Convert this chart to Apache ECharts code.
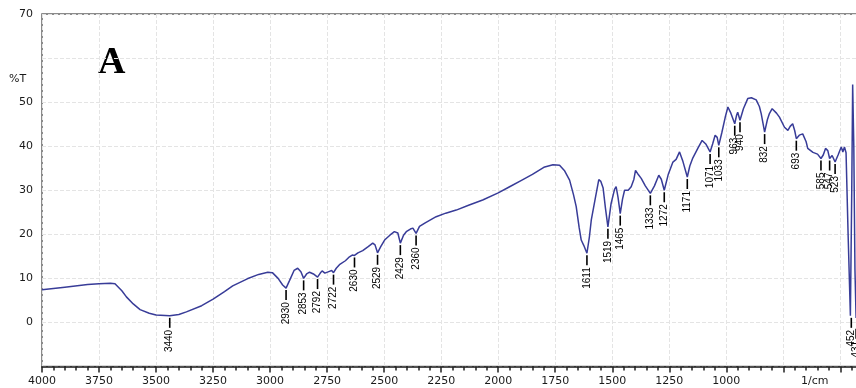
<!DOCTYPE html>
<html>
<head>
<meta charset="utf-8">
<title>FTIR spectrum A</title>
<script src="https://cdn.jsdelivr.net/npm/echarts@6/dist/echarts.min.js"></script>
<style>
  html, body { margin: 0; padding: 0; background: #fff; }
  #chart { width: 856px; height: 388px; }
</style>
</head>
<body>
<div id="chart"></div>
<script>
// wavenumber (1/cm) and transmittance (%T)
const wavenumbers = [
  4000, 3900, 3800, 3750, 3700, 3680, 3650, 3630, 3600, 3570, 3530, 3500, 3440, 3400, 3367,
  3300, 3250, 3200, 3164, 3100, 3050, 3010, 2990, 2965, 2945, 2930, 2915, 2895, 2879, 2865,
  2853, 2840, 2827, 2810, 2792, 2780, 2772, 2760, 2754, 2740, 2730, 2722, 2710, 2696, 2670,
  2652, 2640, 2630, 2615, 2594, 2570, 2550, 2540, 2529, 2515, 2498, 2475, 2455, 2440, 2429,
  2415, 2403, 2385, 2374, 2360, 2345, 2320, 2272, 2230, 2184, 2130, 2068, 2000, 1950, 1900,
  1850, 1800, 1760, 1731, 1710, 1687, 1670, 1658, 1645, 1636, 1625, 1611, 1600, 1592, 1575,
  1559, 1550, 1540, 1530, 1519, 1505, 1490, 1483, 1475, 1465, 1455, 1446, 1430, 1417, 1405,
  1398, 1385, 1373, 1355, 1333, 1315, 1296, 1285, 1272, 1255, 1234, 1220, 1205, 1190, 1171,
  1160, 1147, 1125, 1106, 1090, 1071, 1060, 1049, 1040, 1033, 1020, 1005, 993, 980, 963,
  955, 950, 940, 925, 906, 890, 869, 855, 847, 832, 820, 811, 799, 780, 767,
  745, 730, 720, 709, 700, 693, 680, 665, 650, 643, 620, 600, 585, 575, 565,
  555, 547, 536, 523, 510, 496, 489, 482, 475, 466, 456, 450, 446, 441, 436, 431
];
const transmittance = [
  7.4, 8.0, 8.6, 8.8, 8.9, 8.8, 7.2, 5.8, 4.2, 2.9, 2.1, 1.7, 1.5, 1.8, 2.4,
  3.8, 5.3, 7.0, 8.3, 9.9, 10.9, 11.4, 11.3, 10.0, 8.5, 7.8, 9.5, 11.8, 12.3, 11.5,
  10.0, 11.0, 11.4, 11.0, 10.3, 11.2, 11.7, 11.2, 10.8, 11.6, 11.8, 11.3, 12.3, 13.1, 14.0,
  14.9, 15.3, 15.2, 15.8, 16.3, 17.2, 18.0, 17.6, 15.8, 17.2, 18.7, 19.8, 20.6, 20.3, 18.0,
  19.8, 20.6, 21.2, 21.4, 20.2, 21.8, 22.6, 24.0, 24.8, 25.5, 26.6, 27.8, 29.4, 30.8, 32.2,
  33.6, 35.2, 35.8, 35.7, 34.5, 32.3, 29.0, 26.3, 21.5, 18.7, 17.5, 15.7, 19.5, 23.2, 28.0,
  32.4, 32.0, 30.5, 26.0, 21.7, 27.0, 30.2, 30.8, 28.5, 24.7, 28.0, 30.0, 30.0, 30.8, 32.5,
  34.5, 33.5, 32.7, 31.0, 29.3, 31.0, 33.4, 32.5, 30.0, 33.5, 36.4, 37.0, 38.7, 36.5, 33.0,
  35.5, 37.3, 39.5, 41.3, 40.5, 38.7, 40.5, 42.5, 42.0, 40.2, 43.0, 46.5, 48.9, 47.5, 45.1,
  47.0, 47.7, 45.9, 48.5, 50.8, 51.0, 50.5, 49.0, 47.4, 43.2, 46.0, 47.4, 48.5, 47.5, 46.6,
  44.3, 43.6, 44.5, 45.1, 43.5, 41.7, 42.5, 42.8, 41.0, 39.5, 38.6, 38.2, 37.2, 38.0, 39.5,
  39.0, 37.2, 37.9, 36.4, 38.0, 39.8, 38.7, 39.8, 38.5, 20.0, 1.5, 30.0, 54.0, 40.0, 12.0, 1.0
];

// picked peaks
const peakNumbers = [
  3440, 2930, 2853, 2792, 2722, 2630, 2529, 2429, 2360, 1611, 1519, 1465, 1333,
  1272, 1171, 1071, 1033, 963, 940, 832, 693, 585, 547, 523, 452, 431
];
const peakValues = [
  1.5, 7.8, 10.0, 10.3, 11.3, 15.2, 15.8, 18.0, 20.2, 15.7, 21.7, 24.7, 29.3,
  30.0, 33.0, 38.7, 40.2, 45.1, 45.9, 43.2, 41.7, 37.2, 37.2, 36.4, 1.5, -1.0
];

const xTicks = { min: 0, max: 4000, step: 250, firstLabel: 1000 };
const yTicks = { min: -10, max: 70, step: 10, hidden: [-10, 60] };

const spectrum = wavenumbers.map((w, i) => [w, transmittance[i]]);
const peaks = peakNumbers.map((w, i) => [w, peakValues[i]]);

const axisFont = { fontFamily: 'DejaVu Sans', fontSize: 11, color: '#1a1a1a' };

const chart = echarts.init(document.getElementById('chart'));

chart.setOption({
  animation: false,
  grid: {
    left: 42,
    top: 14,
    width: 912.4,
    height: 352.5,
    outerBoundsMode: 'none',
    containLabel: false,
    show: true,
    borderColor: '#666',
    borderWidth: 1.5,
    backgroundColor: 'transparent',
  },
  xAxis: {
    type: 'value',
    inverse: true,
    min: xTicks.min,
    max: xTicks.max,
    interval: xTicks.step,
    axisLine: { show: true, onZero: false, lineStyle: { color: '#222', width: 1.5 } },
    axisTick: { show: true, length: 6, lineStyle: { color: '#222', width: 1.5 } },
    minorTick: { show: true, splitNumber: 5, length: 4, lineStyle: { color: '#222', width: 1.5 } },
    splitLine: { show: true, lineStyle: { color: '#e4e4e4', type: 'dashed', width: 1 } },
    axisLabel: {
      ...axisFont,
      margin: 9,
      showMaxLabel: true,
      hideOverlap: false,
      formatter: (v) => (v >= xTicks.firstLabel ? String(v) : ''),
    },
  },
  yAxis: {
    type: 'value',
    min: yTicks.min,
    max: yTicks.max,
    interval: yTicks.step,
    axisLine: { show: true, lineStyle: { color: '#222', width: 1.5 } },
    axisTick: { show: true, length: 7, lineStyle: { color: '#222', width: 1.5 } },
    minorTick: { show: true, splitNumber: 5, length: 4, lineStyle: { color: '#222', width: 1.5 } },
    splitLine: { show: true, lineStyle: { color: '#e4e4e4', type: 'dashed', width: 1 } },
    axisLabel: {
      ...axisFont,
      margin: 9,
      showMaxLabel: true,
      formatter: (v) => (yTicks.hidden.includes(v) ? '' : String(v)),
    },
  },
  graphic: [
    {
      type: 'text',
      left: 98,
      top: 44,
      style: {
        text: 'A',
        font: 'bold 38px "Liberation Serif", "DejaVu Serif", serif',
        fill: '#000',
      },
    },
    {
      type: 'text',
      left: 9,
      top: 74,
      style: { text: '%T', font: '11px "DejaVu Sans"', fill: '#1a1a1a' },
    },
    {
      type: 'text',
      left: 801,
      top: 376,
      style: { text: '1/cm', font: '11px "DejaVu Sans"', fill: '#1a1a1a' },
    },
  ],
  series: [
    {
      name: 'spectrum',
      type: 'line',
      data: spectrum,
      showSymbol: false,
      smooth: false,
      lineStyle: { color: '#383c98', width: 1.5 },
      z: 3,
    },
    {
      name: 'peaks',
      type: 'custom',
      data: peaks,
      clip: false,
      z: 4,
      renderItem: (params, api) => {
        const p = api.coord([api.value(0), api.value(1)]);
        return {
          type: 'group',
          children: [
            {
              type: 'line',
              shape: { x1: p[0], y1: p[1] + 2, x2: p[0], y2: p[1] + 12 },
              style: { stroke: '#000', lineWidth: 1.6 },
            },
            {
              type: 'text',
              x: p[0],
              y: p[1] + 14,
              rotation: Math.PI / 2,
              style: {
                text: String(api.value(0)),
                font: '10px "Liberation Sans", Arial, sans-serif',
                fill: '#000',
                align: 'right',
                verticalAlign: 'middle',
              },
            },
          ],
        };
      },
    },
  ],
});
</script>
</body>
</html>
